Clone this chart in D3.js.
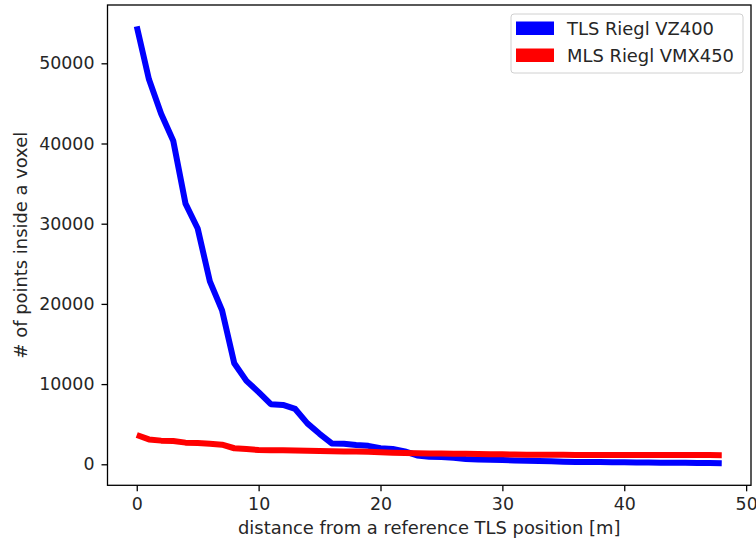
<!DOCTYPE html>
<html>
<head>
<meta charset="utf-8">
<script src="https://cdn.jsdelivr.net/npm/d3@7"></script>
<style>
  html, body { margin: 0; padding: 0; background: #fff; }
  svg { display: block; font-family: "DejaVu Sans", sans-serif; }
</style>
</head>
<body>
<svg id="chart" width="756" height="541"></svg>
<script>
// distance from the reference TLS position [m]
const distances = d3.range(0, 49);

// number of points inside a voxel, per scanner
const tlsCounts = [
  54600, 48000, 43700, 40300, 32500, 29400, 22800, 19200, 12600, 10400,
  9000, 7500, 7400, 6900, 5100, 3800, 2600, 2550, 2400, 2300,
  2000, 1900, 1600, 1100, 950, 900, 800, 650, 600, 560,
  520, 480, 450, 420, 380, 330, 300, 280, 270, 260,
  250, 230, 210, 200, 190, 180, 170, 150, 130
];
const mlsCounts = [
  3650, 3100, 2950, 2900, 2700, 2650, 2550, 2450, 2000, 1900,
  1780, 1760, 1740, 1720, 1680, 1650, 1620, 1600, 1580, 1560,
  1500, 1450, 1400, 1380, 1360, 1340, 1320, 1300, 1280, 1260,
  1240, 1220, 1200, 1190, 1180, 1175, 1172, 1170, 1168, 1165,
  1162, 1160, 1158, 1155, 1152, 1150, 1148, 1145, 1142
];

const seriesNames = ["TLS Riegl VZ400", "MLS Riegl VMX450"];
const seriesColors = ["#0000ff", "#ff0000"];
const xTicks = [0, 10, 20, 30, 40, 50];
const yTicks = [0, 10000, 20000, 30000, 40000, 50000];
const yLimits = [-2620, 57270];

const svg = d3.select("#chart");
const plot = { left: 107.5, right: 751, top: 5, bottom: 485.3 };
const tickFont = "17.4px";
const labelFont = "17.9px";
const textColor = "#262626";

// x limits padded by 5% of the data range on each side
function padded(lo, hi) {
  const r = hi - lo;
  return [lo - 0.05 * r, hi + 0.05 * r];
}
const xExt = d3.extent(distances);

const x = d3.scaleLinear().domain(padded(xExt[0], xExt[1])).range([plot.left, plot.right]);
const y = d3.scaleLinear().domain(yLimits).range([plot.bottom, plot.top]);

// data lines
const series = [tlsCounts, mlsCounts];
const line = d3.line()
  .x((d, i) => x(distances[i]))
  .y(d => y(d));

const g = svg.append("g");
series.forEach((vals, k) => {
  g.append("path")
    .datum(vals)
    .attr("d", line)
    .attr("fill", "none")
    .attr("stroke", seriesColors[k])
    .attr("stroke-width", 6)
    .attr("stroke-linejoin", "round")
    .attr("stroke-linecap", "butt");
});

// axes
const xAxis = d3.axisBottom(x).tickValues(xTicks).tickSize(6).tickPadding(6).tickFormat(d3.format("d"));
const yAxis = d3.axisLeft(y).tickValues(yTicks).tickSize(6).tickPadding(7).tickFormat(d3.format("d"));

const gx = svg.append("g").attr("transform", `translate(0,${plot.bottom})`).call(xAxis);
const gy = svg.append("g").attr("transform", `translate(${plot.left},0)`).call(yAxis);
[gx, gy].forEach(a => {
  a.select(".domain").remove();
  a.selectAll(".tick line").attr("stroke", "#000").attr("stroke-width", 1.3);
  a.selectAll(".tick text").attr("fill", textColor).style("font-size", tickFont)
    .style("font-family", "'DejaVu Sans', sans-serif");
});

// frame
svg.append("rect")
  .attr("x", plot.left).attr("y", plot.top)
  .attr("width", plot.right - plot.left).attr("height", plot.bottom - plot.top)
  .attr("fill", "none").attr("stroke", "#000").attr("stroke-width", 1.3);

// axis titles
svg.append("text")
  .attr("x", (plot.left + plot.right) / 2).attr("y", 534)
  .attr("text-anchor", "middle").attr("fill", textColor)
  .style("font-size", labelFont)
  .text("distance from a reference TLS position [m]");

svg.append("text")
  .attr("transform", `translate(27,${(plot.top + plot.bottom) / 2}) rotate(-90)`)
  .attr("text-anchor", "middle").attr("fill", textColor)
  .style("font-size", labelFont)
  .text("# of points inside a voxel");

// legend
const lg = svg.append("g").attr("transform", "translate(511,14)");
lg.append("rect")
  .attr("width", 232).attr("height", 59).attr("rx", 3)
  .attr("fill", "#fff").attr("fill-opacity", 0.8)
  .attr("stroke", "#d0d0d0").attr("stroke-width", 1);
seriesNames.forEach((name, i) => {
  const row = lg.append("g").attr("transform", `translate(0,${7.5 + i * 27})`);
  row.append("rect").attr("x", 5).attr("y", 0).attr("width", 38).attr("height", 13.5)
    .attr("fill", seriesColors[i]);
  row.append("text").attr("x", 56).attr("y", 13.5)
    .attr("fill", textColor).style("font-size", labelFont).text(name);
});
</script>
</body>
</html>
